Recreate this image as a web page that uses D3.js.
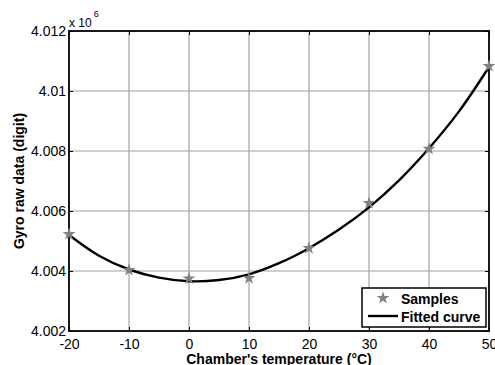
<!DOCTYPE html>
<html>
<head>
<meta charset="utf-8">
<script src="https://cdn.jsdelivr.net/npm/d3@7"></script>
<style>
  body { margin: 0; background: #fff; }
  svg { display: block; font-family: "Liberation Sans", Arial, sans-serif; }
</style>
</head>
<body>
<svg id="chart" width="495" height="365"></svg>
<script>
// samples (x in degC, y raw gyro value)
const sampleTemps = [-20, -10, 0, 10, 20, 30, 40, 50];
const sampleVals = [4005230, 4004030, 4003750, 4003760, 4004760, 4006260, 4008070, 4010830];

// fitted curve
const curveTemps = [-20, -15, -10, -5, 0, 5, 10, 15, 20, 25, 30, 35, 40, 45, 50];
const curveVals = [4005200, 4004510, 4004050, 4003780, 4003660, 4003700, 4003890, 4004260,
  4004760, 4005380, 4006120, 4007020, 4008090, 4009320, 4010800];

const xTicks = [-20, -10, 0, 10, 20, 30, 40, 50];
const yTicks = [4002000, 4004000, 4006000, 4008000, 4010000, 4012000];

const svg = d3.select("svg#chart");
const mLeft = 69, mRight = 489, mTop = 31, mBottom = 331;

let x = d3.scaleLinear().domain([-20, 50]).range([mLeft, mRight]);
let y = d3.scaleLinear().domain([4002000, 4012000]).range([mBottom, mTop]);

// grid
svg.append("g")
  .selectAll("line")
  .data(xTicks.slice(1, -1))
  .enter()
  .append("line")
  .attr("x1", d => x(d)).attr("x2", d => x(d))
  .attr("y1", mTop).attr("y2", mBottom)
  .style("stroke", "#909090").style("stroke-width", 1);

svg.append("g")
  .selectAll("line")
  .data(yTicks.slice(1, -1))
  .enter()
  .append("line")
  .attr("x1", mLeft).attr("x2", mRight)
  .attr("y1", d => y(d)).attr("y2", d => y(d))
  .style("stroke", "#a0a0a0").style("stroke-width", 1);

// axes (MATLAB-style inner ticks on all four sides)
const fmtY = d => d3.format(".3~f")(d / 1e6);

svg.append("g")
  .attr("transform", `translate(0,${mBottom})`)
  .call(d3.axisBottom(x).tickValues(xTicks).tickSizeInner(-4).tickSizeOuter(0).tickPadding(8).tickFormat(d => String(d)))
  .call(g => g.select(".domain").remove());

svg.append("g")
  .attr("transform", `translate(0,${mTop})`)
  .call(d3.axisTop(x).tickValues(xTicks).tickSizeInner(-4).tickSizeOuter(0).tickFormat(""))
  .call(g => g.select(".domain").remove());

svg.append("g")
  .attr("transform", `translate(${mLeft},0)`)
  .call(d3.axisLeft(y).tickValues(yTicks).tickSizeInner(-4).tickSizeOuter(0).tickPadding(3).tickFormat(fmtY))
  .call(g => g.select(".domain").remove());

svg.append("g")
  .attr("transform", `translate(${mRight},0)`)
  .call(d3.axisRight(y).tickValues(yTicks).tickSizeInner(-4).tickSizeOuter(0).tickFormat(""))
  .call(g => g.select(".domain").remove());

svg.selectAll(".tick line").style("stroke", "#000").style("stroke-width", 1);
svg.selectAll(".tick text").style("font-size", "14px").style("fill", "#000")
  .style("font-family", "'Liberation Sans', Arial, sans-serif");

// box
svg.append("rect")
  .attr("x", mLeft).attr("y", mTop)
  .attr("width", mRight - mLeft).attr("height", mBottom - mTop)
  .style("fill", "none").style("stroke", "#000").style("stroke-width", 1.8);

// fitted curve
svg.append("path")
  .datum(curveTemps.map((t, i) => [t, curveVals[i]]))
  .attr("d", d3.line().x(d => x(d[0])).y(d => y(d[1])).curve(d3.curveCatmullRom))
  .style("fill", "none").style("stroke", "#000").style("stroke-width", 2.4);

// samples
const star = d3.symbol().type(d3.symbolStar).size(52);
svg.append("g")
  .selectAll("path")
  .data(sampleTemps.map((t, i) => [t, sampleVals[i]]))
  .enter()
  .append("path")
  .attr("d", star)
  .attr("transform", d => `translate(${x(d[0])},${y(d[1])})`)
  .style("fill", "#808080");

// exponent label
const expo = svg.append("text").attr("x", 69).attr("y", 27)
  .style("font-size", "12px");
expo.append("tspan").text("x 10");
expo.append("tspan").attr("dx", 2).attr("dy", -10).style("font-size", "9px").text("6");

// axis titles
svg.append("text")
  .attr("x", (mLeft + mRight) / 2).attr("y", 364)
  .attr("text-anchor", "middle")
  .style("font-size", "14px").style("font-weight", "bold")
  .text("Chamber's temperature  (°C)");

svg.append("text")
  .attr("transform", `translate(23.5,${(mTop + mBottom) / 2}) rotate(-90)`)
  .attr("text-anchor", "middle")
  .style("font-size", "14px").style("font-weight", "bold")
  .text("Gyro raw data (digit)");

// legend
const lg = svg.append("g");
lg.append("rect")
  .attr("x", 362).attr("y", 288).attr("width", 124).attr("height", 39)
  .style("fill", "#fff").style("stroke", "#000").style("stroke-width", 1.5);
lg.append("path").attr("d", star).attr("transform", "translate(383,298)").style("fill", "#808080");
lg.append("line").attr("x1", 368).attr("x2", 398).attr("y1", 316).attr("y2", 316)
  .style("stroke", "#000").style("stroke-width", 2.4);
lg.append("text").attr("x", 401).attr("y", 304).style("font-size", "14px").style("font-weight", "bold").text("Samples");
lg.append("text").attr("x", 401).attr("y", 322).style("font-size", "14px").style("font-weight", "bold").text("Fitted curve");
</script>
</body>
</html>
